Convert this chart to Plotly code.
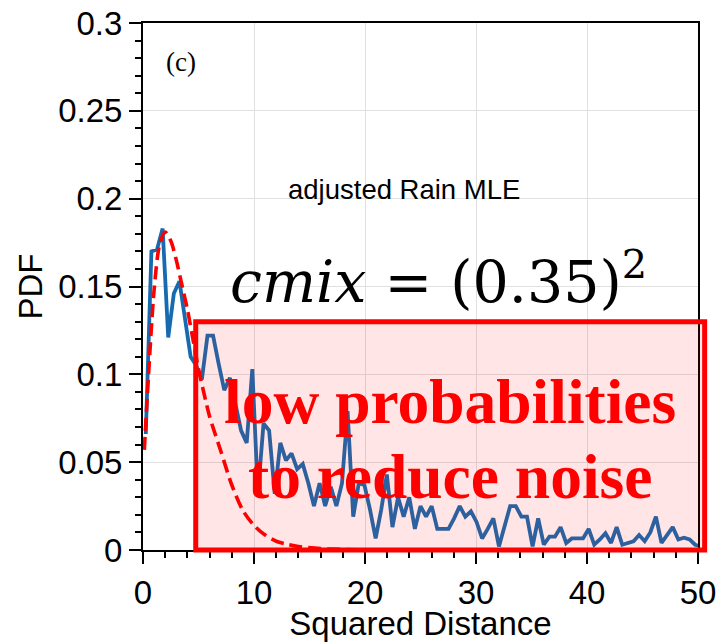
import numpy as np
import plotly.graph_objects as go

# ---- data ----
bin_edges = np.linspace(0, 50.5, 101)
sq_dist = (bin_edges[:-1] + bin_edges[1:]) / 2

pdf_empirical = [
    0.066, 0.170, 0.171, 0.183, 0.121, 0.146, 0.153, 0.132, 0.110, 0.105,
    0.097, 0.122, 0.122, 0.106, 0.091, 0.098, 0.083, 0.068, 0.061, 0.103,
    0.032, 0.072, 0.068, 0.032, 0.061, 0.051, 0.055, 0.046, 0.049, 0.038,
    0.025, 0.038, 0.025, 0.036, 0.025, 0.038, 0.079, 0.019, 0.038, 0.037,
    0.023, 0.0066, 0.023, 0.043, 0.013, 0.030, 0.019, 0.030, 0.012, 0.025,
    0.019, 0.025, 0.012, 0.012, 0.012, 0.018, 0.025, 0.019, 0.022, 0.016,
    0.0066, 0.012, 0.018, 0.002, 0.013, 0.025, 0.025, 0.019, 0.019, 0.002,
    0.018, 0.003, 0.0076, 0.0076, 0.013, 0.004, 0.0066, 0.0066, 0.0066, 0.012,
    0.003, 0.006, 0.0095, 0.004, 0.013, 0.003, 0.004, 0.005, 0.0085, 0.005,
    0.010, 0.019, 0.004, 0.009, 0.013, 0.006, 0.007, 0.006, 0.003, 0.002,
]

fit_x = [0.12, 0.5, 1.0, 1.5, 2.0, 2.5, 3.0, 3.5, 4.0, 4.5, 5.0, 5.5, 6.0, 7.0,
         8.0, 9.0, 10.0, 11.0, 12.0, 13.0, 14.0, 16.0, 18.0, 20.0, 25.0, 30.0, 40.0, 50.0]
fit_y = [0.057, 0.100, 0.148, 0.174, 0.181, 0.176, 0.165, 0.151, 0.137, 0.120, 0.103,
         0.089, 0.076, 0.0565, 0.037, 0.0225, 0.014, 0.0085, 0.005, 0.0033, 0.002,
         0.0008, 0.0003, 0.0001, 0.0, 0.0, 0.0, 0.0]

# highlighted region (data units)
box_x = [4.75, 50.6]
box_y = [0.0, 0.13]

x_ticks = [0, 10, 20, 30, 40, 50]
y_ticks = [0, 0.05, 0.1, 0.15, 0.2, 0.25, 0.3]
y_ticklabels = ["0", "0.05", "0.1", "0.15", "0.2", "0.25", "0.3"]
x_range = [0, 50]
y_range = [0, 0.3]

sans = "Liberation Sans, Arial, Helvetica, sans-serif"
serif = "Liberation Serif, Times New Roman, serif"

fig = go.Figure()
fig.add_trace(go.Scatter(x=sq_dist, y=pdf_empirical, mode="lines",
                         line=dict(color="#166bb0", width=3.8), showlegend=False))
fig.add_trace(go.Scatter(x=fit_x, y=fit_y, mode="lines",
                         line=dict(color="#ff0000", width=3.6, dash="13px,6px",
                                   shape="spline", smoothing=0.8),
                         showlegend=False))

def px(v):
    return (v - x_range[0]) / (x_range[1] - x_range[0])

def py(v):
    return (v - y_range[0]) / (y_range[1] - y_range[0])

fig.add_shape(type="rect", xref="paper", yref="paper",
              x0=px(box_x[0]), x1=px(box_x[1]), y0=py(box_y[0]), y1=py(box_y[1]),
              line=dict(color="#ff0000", width=5), fillcolor="rgba(255,0,0,0.1)",
              layer="above")

red_font = dict(family=serif, size=63.5, color="#ff0000")
fig.add_annotation(x=27.66, y=0.0845, xref="x", yref="y", text="<b>low probabilities</b>",
                   showarrow=False, font=red_font, xanchor="center", yanchor="middle")
fig.add_annotation(x=27.66, y=0.0418, xref="x", yref="y", text="<b>to reduce noise</b>",
                   showarrow=False, font=red_font, xanchor="center", yanchor="middle")
fig.add_annotation(x=26.6, y=0.155, xref="x", yref="y",
                   text="<i>cmix</i> = (0.35)<sup>2</sup>",
                   showarrow=False, font=dict(family="DejaVu Serif", size=57, color="black"),
                   xanchor="center", yanchor="middle")
fig.add_annotation(x=23.5, y=0.205, xref="x", yref="y", text="adjusted Rain MLE",
                   showarrow=False, font=dict(family=sans, size=27.5, color="black"),
                   xanchor="center", yanchor="middle")
fig.add_annotation(x=3.45, y=0.278, xref="x", yref="y", text="(c)",
                   showarrow=False, font=dict(family=serif, size=27, color="black"),
                   xanchor="center", yanchor="middle")

axis_common = dict(showline=True, linecolor="black", linewidth=2, mirror=True,
                   ticks="outside", ticklen=12, tickwidth=1.5, tickcolor="black",
                   showgrid=True, gridcolor="#e0e0e0", gridwidth=1.2, zeroline=False,
                   ticklabeloverflow="allow",
                   tickfont=dict(family=sans, size=33, color="black"))

fig.update_xaxes(range=x_range, tickvals=x_ticks,
                 title=dict(text="Squared Distance", font=dict(family=sans, size=33, color="black"),
                            standoff=7),
                 minor=dict(dtick=2, ticks="outside", ticklen=6, tickwidth=1.5,
                            tickcolor="black", showgrid=False),
                 **axis_common)
fig.update_yaxes(range=y_range, tickvals=y_ticks, ticktext=y_ticklabels,
                 title=dict(text="PDF", font=dict(family=sans, size=33, color="black"),
                            standoff=6),
                 minor=dict(dtick=0.01, ticks="outside", ticklen=6, tickwidth=1.5,
                            tickcolor="black", showgrid=False),
                 **axis_common)

fig.update_layout(width=718, height=642,
                  margin=dict(l=143, r=20, t=23, b=92, autoexpand=False),
                  paper_bgcolor="white", plot_bgcolor="white")

# remove the page's default body margin so the figure fills the window exactly
fig.write_html("out.html", config={"displayModeBar": False},
               post_script="document.body.style.margin='0';document.body.style.overflow='hidden';")
